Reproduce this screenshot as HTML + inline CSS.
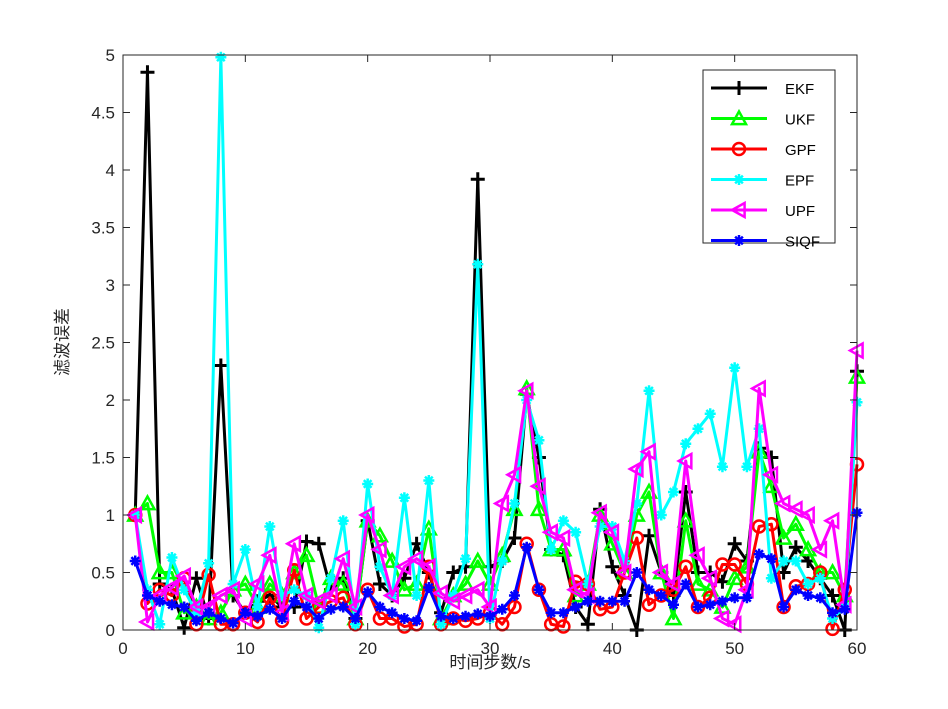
<!DOCTYPE html>
<html><head><meta charset="utf-8"><style>
body{margin:0;background:#fff;}
svg{display:block;font-family:"Liberation Sans","Noto Sans CJK SC",sans-serif;}
</style></head><body>
<svg id="chart" width="948" height="709" viewBox="0 0 948 709" xmlns="http://www.w3.org/2000/svg">
<rect x="0" y="0" width="948" height="709" fill="#fff"/>
<g id="plot"></g>
<g id="axes"></g>
<text x="490" y="668" font-size="17" fill="#262626" text-anchor="middle">时间步数/s</text>
<text transform="translate(68,342) rotate(-90)" font-size="17" fill="#262626" text-anchor="middle">滤波误差</text>
<g id="legend"></g>
</svg>
<script>
const xs = Array.from({length:60},(_, i)=>i+1);
const seriesNames = ["EKF","UKF","GPF","EPF","UPF","SIQF"];
const ekf = [1.0,4.85,0.4,0.35,0.02,0.45,0.1,2.3,0.3,0.15,0.25,0.3,0.2,0.2,0.77,0.75,0.35,0.45,0.1,0.95,0.4,0.3,0.45,0.75,0.5,0.15,0.5,0.55,3.92,0.55,0.6,0.8,2.05,1.5,0.7,0.65,0.2,0.05,1.05,0.55,0.3,0.0,0.82,0.5,0.3,1.2,0.5,0.5,0.42,0.75,0.6,1.58,1.5,0.5,0.72,0.6,0.45,0.3,0.0,2.25];
const ukf = [1.0,1.1,0.5,0.5,0.15,0.2,0.1,0.15,0.35,0.4,0.2,0.4,0.3,0.5,0.65,0.2,0.45,0.4,0.1,0.95,0.82,0.6,0.35,0.4,0.88,0.1,0.3,0.4,0.6,0.4,0.65,1.05,2.1,1.05,0.7,0.7,0.3,0.4,1.0,0.75,0.5,1.0,1.2,0.5,0.1,0.95,0.4,0.35,0.2,0.45,0.55,1.55,1.25,0.8,0.92,0.7,0.5,0.5,0.3,2.2];
const gpf = [1.0,0.23,0.35,0.3,0.45,0.05,0.48,0.05,0.05,0.15,0.07,0.28,0.08,0.52,0.1,0.2,0.25,0.28,0.05,0.35,0.1,0.1,0.03,0.05,0.55,0.05,0.1,0.08,0.1,0.15,0.05,0.2,0.75,0.35,0.05,0.03,0.42,0.4,0.18,0.2,0.5,0.8,0.22,0.3,0.35,0.55,0.2,0.28,0.57,0.57,0.4,0.9,0.92,0.2,0.38,0.4,0.5,0.01,0.35,1.44];
const epf = [1.0,0.35,0.05,0.63,0.35,0.15,0.58,4.98,0.4,0.7,0.2,0.9,0.3,0.35,0.3,0.02,0.45,0.95,0.05,1.27,0.55,0.3,1.15,0.3,1.3,0.05,0.3,0.62,3.18,0.1,0.6,1.1,2.0,1.65,0.7,0.95,0.85,0.4,0.9,0.9,0.6,1.1,2.08,1.0,1.2,1.62,1.75,1.88,1.42,2.28,1.42,1.75,0.45,0.6,0.6,0.4,0.45,0.1,0.2,1.98];
const upf = [1.0,0.07,0.3,0.37,0.47,0.2,0.2,0.3,0.35,0.1,0.4,0.65,0.15,0.75,0.3,0.25,0.3,0.62,0.2,1.0,0.7,0.3,0.55,0.62,0.55,0.32,0.25,0.3,0.35,0.2,1.1,1.35,2.08,1.25,0.85,0.8,0.35,0.3,1.02,0.85,0.5,1.4,1.55,0.5,0.4,1.47,0.65,0.45,0.1,0.05,0.35,2.1,1.35,1.1,1.05,1.0,0.7,0.95,0.22,2.43];
const siqf = [0.6,0.3,0.25,0.22,0.2,0.08,0.15,0.1,0.06,0.15,0.12,0.18,0.1,0.25,0.2,0.1,0.18,0.2,0.1,0.33,0.2,0.15,0.1,0.08,0.37,0.12,0.1,0.12,0.14,0.12,0.18,0.3,0.72,0.35,0.15,0.15,0.2,0.25,0.25,0.25,0.25,0.5,0.35,0.3,0.22,0.4,0.2,0.22,0.25,0.28,0.28,0.66,0.62,0.2,0.35,0.3,0.28,0.15,0.18,1.02];
const yTicks = [0,0.5,1,1.5,2,2.5,3,3.5,4,4.5,5];
const xTicks = [0,10,20,30,40,50,60];

const X0=123,X1=857,Y0=630,Y1=55;
const sx = v => X0 + (v-0)/(60-0)*(X1-X0);
const sy = v => Y0 - (v-0)/(5-0)*(Y0-Y1);
const NS="http://www.w3.org/2000/svg";
function mk(tag, attrs, parent){const e=document.createElementNS(NS,tag);for(const k in attrs)e.setAttribute(k,attrs[k]);parent.appendChild(e);return e;}

function marker(type,cx,cy,color,g){
  const r=7;
  if(type==='+'){
    mk('path',{d:`M${cx-r} ${cy}H${cx+r}M${cx} ${cy-r}V${cy+r}`,stroke:color,'stroke-width':3,fill:'none'},g);
  }else if(type==='^'){
    mk('path',{d:`M${cx} ${cy-r}L${cx+r} ${cy+r*0.8}L${cx-r} ${cy+r*0.8}Z`,stroke:color,'stroke-width':2.5,fill:'none'},g);
  }else if(type==='<'){
    mk('path',{d:`M${cx-r} ${cy}L${cx+r*0.8} ${cy-r}L${cx+r*0.8} ${cy+r}Z`,stroke:color,'stroke-width':2.5,fill:'none'},g);
  }else if(type==='o'){
    mk('circle',{cx:cx,cy:cy,r:r-1,stroke:color,'stroke-width':2.5,fill:'none'},g);
  }else if(type==='*'){
    const rr=5.5;
    mk('path',{d:`M${cx-rr} ${cy}H${cx+rr}M${cx} ${cy-rr}V${cy+rr}M${cx-rr*0.7} ${cy-rr*0.7}L${cx+rr*0.7} ${cy+rr*0.7}M${cx-rr*0.7} ${cy+rr*0.7}L${cx+rr*0.7} ${cy-rr*0.7}`,stroke:color,'stroke-width':2.5,fill:'none'},g);
  }
}

const series=[
 {name:"EKF",data:ekf,color:"#000000",m:'+'},
 {name:"UKF",data:ukf,color:"#00ff00",m:'^'},
 {name:"GPF",data:gpf,color:"#ff0000",m:'o'},
 {name:"EPF",data:epf,color:"#00ffff",m:'*'},
 {name:"UPF",data:upf,color:"#ff00ff",m:'<'},
 {name:"SIQF",data:siqf,color:"#0000ff",m:'*'}
];

const plot=document.getElementById('plot');
series.forEach(s=>{
  const g=mk('g',{},plot);
  
  
  const pts=s.data.map((v,i)=>sx(xs[i])+','+sy(v)).join(' ');
  const pl=mk('polyline',{points:pts,fill:'none',stroke:s.color,'stroke-width':3,'stroke-linejoin':'round'},g);
  
  
  s.data.forEach((v,i)=>marker(s.m,sx(xs[i]),sy(v),s.color,g));
});

const axes=document.getElementById('axes');
mk('rect',{x:X0,y:Y1,width:X1-X0,height:Y0-Y1,fill:'none',stroke:'#262626','stroke-width':1},axes);
yTicks.forEach(t=>{
  const y=sy(t);
  mk('line',{x1:X0,x2:X0+7,y1:y,y2:y,stroke:'#262626'},axes);
  mk('line',{x1:X1,x2:X1-7,y1:y,y2:y,stroke:'#262626'},axes);
  const tx=mk('text',{x:X0-8,y:y+6,'font-size':17,fill:'#262626','text-anchor':'end'},axes);
  tx.textContent=String(t);
  
  
});
xTicks.forEach(t=>{
  const x=sx(t);
  mk('line',{x1:x,x2:x,y1:Y0,y2:Y0-7,stroke:'#262626'},axes);
  mk('line',{x1:x,x2:x,y1:Y1,y2:Y1+7,stroke:'#262626'},axes);
  const tx=mk('text',{x:x,y:Y0+24,'font-size':17,fill:'#262626','text-anchor':'middle'},axes);
  tx.textContent=String(t);
  
  
});

const lg=document.getElementById('legend');
mk('rect',{x:703,y:70,width:132,height:173,fill:'#fff',stroke:'#262626','stroke-width':1},lg);
series.forEach((s,i)=>{
  const y=88+i*30.5;
  const g=mk('g',{},lg);
  
  
  mk('line',{x1:711,x2:767,y1:y,y2:y,stroke:s.color,'stroke-width':3},g);
  marker(s.m,739,y,s.color,g);
  const t=mk('text',{x:785,y:y+6,'font-size':15,fill:'#000'},g);
  t.textContent=s.name;
});
</script>
</body></html>
